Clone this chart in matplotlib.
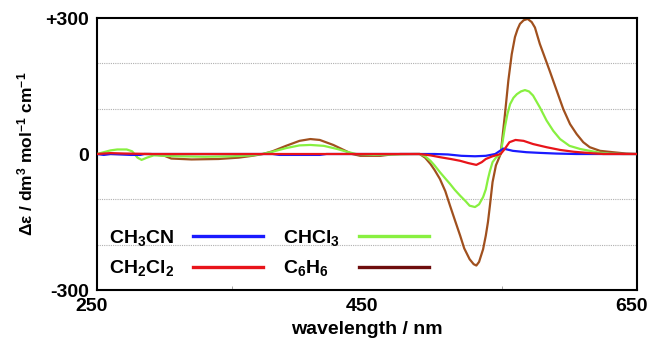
import matplotlib
matplotlib.use("Agg")
import matplotlib.pyplot as plt
import matplotlib.transforms as mtransforms
from matplotlib.lines import Line2D

plt.rcParams['font.family'] = ['Liberation Sans', 'DejaVu Sans']
plt.rcParams['font.weight'] = 'bold'
plt.rcParams['mathtext.default'] = 'regular'

# wavelength (nm) / delta epsilon pairs
wl_ch3cn = [250, 255, 260, 275, 282, 285, 380, 385, 415, 420, 480, 500, 510, 520, 530, 538,
            545, 551, 558, 568, 578, 590, 605, 620, 650]
de_ch3cn = [0, -2, 0, -2, -2, 0, 0, -2, -2, 0, 0, 0, -1, -4, -5, -4,
            0, 12, 7, 4, 2.5, 1, 0, 0, 0]

wl_ch2cl2 = [250, 260, 270, 290, 489, 497, 504, 512, 519, 525, 531, 535, 538, 543, 549,
             552, 555.5, 560, 566, 573, 583, 593, 603, 615, 625, 650]
de_ch2cl2 = [0, 2, 1, 0, 0, -3, -7, -11, -15, -20, -24, -18, -11, -5, 0,
             11, 26, 31, 29, 22, 15, 9, 5, 2, 0, 0]

wl_chcl3 = [250, 255, 260, 265, 272, 276, 280, 283, 287, 292, 300, 310, 330, 350, 365, 372,
            380, 390, 400, 408, 418, 428, 435, 442, 455, 470, 485, 489, 493, 497, 500, 504,
            508, 511.5, 515, 519, 523, 526, 530, 533, 536, 538, 539.6, 541, 543, 545.5, 549,
            550.5, 552.2, 554, 556, 558.5, 561, 564, 567, 570, 573, 578, 583, 588, 593, 600,
            608, 615, 622, 630, 640, 650]
de_chcl3 = [0, 4, 8, 10, 10, 6, -8, -13, -8, -3, -4, -5, -6, -5, -3, 0,
            5, 13, 19, 20, 18, 11, 5, 0, -2, -1, 0, 0, -5, -15, -25, -40,
            -54, -66, -79, -92, -104, -114, -117, -111, -95, -78, -55, -38, -18, -8, 0,
            28, 60, 88, 110, 124, 132, 138, 141, 138, 129, 103, 74, 51, 33, 18,
            11, 7, 3, 1, 0, 0]

wl_c6h6 = [250, 290, 300, 305, 320, 340, 355, 365, 373, 380, 390, 400, 408, 415, 425, 432,
           439, 445, 460, 468, 475, 485, 489, 493, 497, 500, 504, 508, 511.5, 515, 519, 522,
           526, 529, 531, 533, 536, 538, 539.6, 541, 543, 545.5, 549, 552.2, 554.7, 557.2,
           559.6, 561.5, 563.3, 566, 569, 572, 574.4, 578, 580.6, 585.5, 590.5, 595.4, 600.4,
           605.3, 610.2, 615, 622.6, 632, 642, 650]
de_c6h6 = [0, 0, -4, -10, -12, -11, -8, -4, 0, 6, 18, 29, 33, 31, 20, 10,
           0, -4, -4, -1, 0, 0, 0, -8, -22, -35, -55, -82, -114, -145, -180, -208,
           -232, -243, -246, -238, -210, -180, -150, -115, -62, -25, 0, 88, 162, 220,
           258, 275, 287, 295, 298, 291, 279, 243, 222, 182, 140, 99, 66,
           44, 26, 15, 7, 4, 1, 0]

labels = ['CH$_3$CN', 'CH$_2$Cl$_2$', 'CHCl$_3$', 'C$_6$H$_6$']
colors = ['#1a1aff', '#e8141a', '#88f040', '#a0501e']
legend_colors = ['#1a1aff', '#e8141a', '#88f040', '#6e0d0d']

fig = plt.figure(figsize=(6.49, 3.43), dpi=100)
ax = fig.add_axes([0.1495, 0.1545, 0.832, 0.793])

for g in (-200, -100, 100, 200):
    ax.axhline(g, color='#b0b0b0', lw=0.8, ls=(0, (1, 1)), zorder=0)

series = [(wl_ch3cn, de_ch3cn), (wl_ch2cl2, de_ch2cl2), (wl_chcl3, de_chcl3), (wl_c6h6, de_c6h6)]
# brown and green first so red/blue sit on top near zero
order = [3, 2, 0, 1]
for i in order:
    x, y = series[i]
    ax.plot(x, y, color=colors[i], lw=1.6, zorder=2 + order.index(i))

ax.set_xlim(250, 650)
ax.set_ylim(-300, 300)
ax.set_xticks([250, 450, 650])
ax.set_xticks([350, 450, 550], minor=True)
ax.set_yticks([-300, 0, 300])
ax.set_yticklabels(['-300', '0', '+300'])
ax.tick_params(axis='both', which='major', length=0, labelsize=14, pad=6)
ax.tick_params(axis='x', which='minor', direction='in', length=3, color='#999999')

# x tick labels sit a little left of their ticks in the original
shift = mtransforms.ScaledTranslation(-5 / 100, 0, fig.dpi_scale_trans)
for lab in ax.get_xticklabels():
    lab.set_transform(lab.get_transform() + shift)

for s in ax.spines.values():
    s.set_linewidth(1.5)

ax.set_xlabel('wavelength / nm', fontsize=14, fontweight='bold', labelpad=4)
ax.set_ylabel('Δε / dm$^3$ mol$^{-1}$ cm$^{-1}$', fontsize=12.5, fontweight='bold', labelpad=7)

handles = [Line2D([], [], color=c, lw=2.4) for c in legend_colors]
leg = ax.legend(handles, labels, ncol=2, loc='lower left', bbox_to_anchor=(0.0, 0.0),
                markerfirst=False, frameon=False, fontsize=14, handlelength=3.6,
                handletextpad=1.0, columnspacing=1.0, labelspacing=0.55, borderaxespad=0.2)

# left-align labels inside each column while keeping the lines lined up
fig.canvas.draw()
renderer = fig.canvas.get_renderer()
px_per_pt = fig.dpi / 72.0
for col in leg._legend_handle_box.get_children():
    col.align = 'left'
    items = col.get_children()
    widths = [it.get_children()[0].get_bbox(renderer).width for it in items]
    wmax = max(widths)
    for it, w in zip(items, widths):
        it.sep = it.sep + (wmax - w) / px_per_pt

fig.savefig('out.png', dpi=100)
